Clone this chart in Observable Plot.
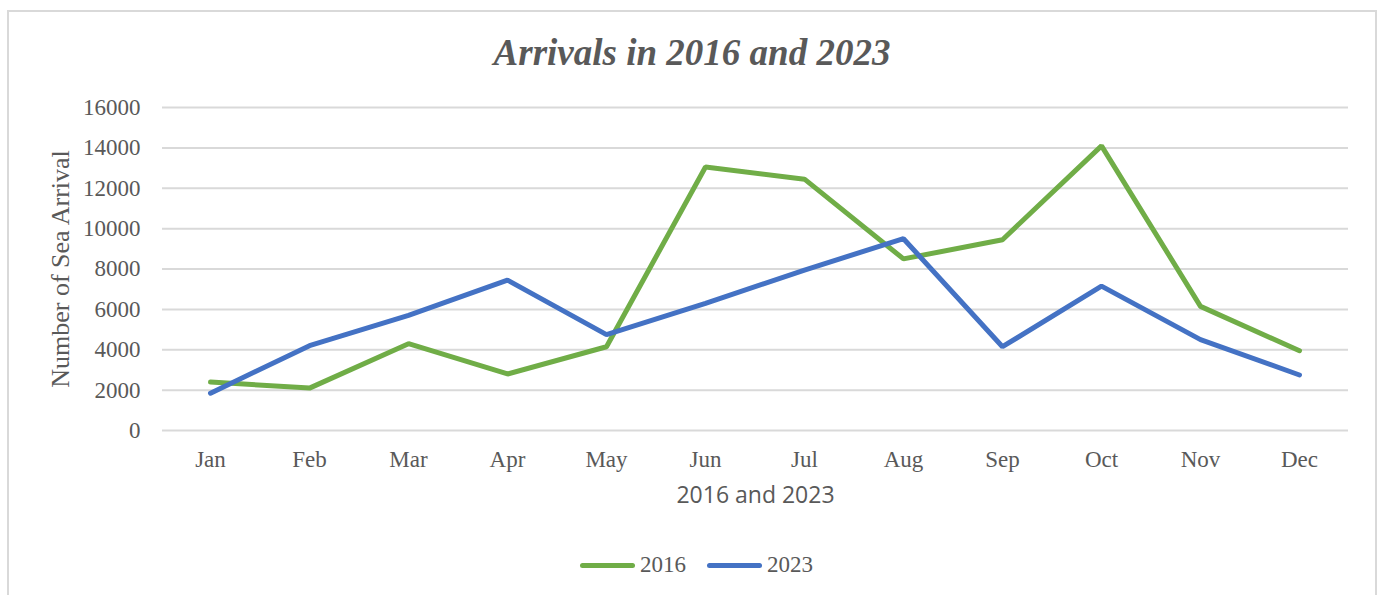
<!DOCTYPE html>
<html>
<head>
<meta charset="utf-8">
<script src="https://cdn.jsdelivr.net/npm/d3@7"></script>
<script src="https://cdn.jsdelivr.net/npm/@observablehq/plot@0.6"></script>
<style>
  html, body { margin: 0; padding: 0; background: #fff; }
  #page { position: relative; width: 1378px; height: 595px; overflow: hidden; font-family: "Liberation Serif", "Times New Roman", serif; color: #595959; }
  #frame { position: absolute; left: 7px; top: 10px; width: 1370px; height: 600px; border: 2px solid #d9d9d9; box-sizing: border-box; }
  #title { position: absolute; left: 0; width: 1384px; top: 33px; line-height: 40px; text-align: center; font-size: 37px; font-weight: bold; font-style: italic; color: #595959; }
  #chart { position: absolute; left: 0; top: 0; }
  #legend { position: absolute; left: 580px; top: 551px; height: 28px; display: flex; align-items: center; font-size: 23px; color: #595959; }
  .sw { display: inline-block; width: 55px; height: 5px; border-radius: 3px; margin-right: 5px; }
  .item { display: flex; align-items: center; margin-right: 21px; }
</style>
</head>
<body>
<div id="page">
  <div id="frame"></div>
  <div id="chart"></div>
  <div id="title">Arrivals in 2016 and 2023</div>
  <div id="legend"></div>
</div>
<script>
const months = ["Jan","Feb","Mar","Apr","May","Jun","Jul","Aug","Sep","Oct","Nov","Dec"];
const seriesNames = ["2016","2023"];
const arrivals2016 = [2400,2100,4300,2800,4150,13050,12450,8500,9450,14100,6150,3950];
const arrivals2023 = [1850,4200,5700,7450,4750,6300,7950,9500,4150,7150,4500,2750];
const yTicks = [0,2000,4000,6000,8000,10000,12000,14000,16000];
const seriesColors = ["#70AD47","#4472C4"];

const rows = [];
months.forEach((m,i) => rows.push({month: m, value: arrivals2016[i], series: "2016"}));
months.forEach((m,i) => rows.push({month: m, value: arrivals2023[i], series: "2023"}));

const chart = Plot.plot({
  width: 1378,
  height: 520,
  marginLeft: 162,
  marginRight: 30,
  marginTop: 107,
  marginBottom: 90,
  style: { fontFamily: "'Liberation Serif', 'Times New Roman', serif", fontSize: "23px", color: "#595959", background: "transparent" },
  x: { type: "point", domain: months, range: [210, 1299], padding: 0, label: null },
  y: { domain: [0,16000], label: null },
  color: { domain: seriesNames, range: seriesColors },
  marks: [
    Plot.gridY(yTicks, { stroke: "#d9d9d9", strokeOpacity: 1, strokeWidth: 2 }),
    Plot.axisY(yTicks, { tickSize: 0, tickPadding: 22, label: null, fontSize: 23, fill: "#595959", tickFormat: d => String(d) }),
    Plot.axisX({ tickSize: 0, tickPadding: 20, label: null, fontSize: 23, fill: "#595959" }),
    Plot.line(rows, { x: "month", y: "value", z: "series", stroke: "series", strokeWidth: 5, strokeLinecap: "round", strokeLinejoin: "miter" }),
    Plot.text(["2016 and 2023"], { frameAnchor: "bottom", dy: 65, fontSize: 23, fill: "#595959", fontFamily: "'Open Sans', sans-serif", lineAnchor: "middle" }),
    Plot.text(["Number of Sea Arrival"], { frameAnchor: "left", dx: -102, rotate: -90, textAnchor: "middle", fontSize: 26, fill: "#595959", lineAnchor: "middle" })
  ]
});
document.getElementById("chart").appendChild(chart);

const legend = document.getElementById("legend");
seriesNames.forEach((name, i) => {
  const it = document.createElement("div");
  it.className = "item";
  const sw = document.createElement("span");
  sw.className = "sw";
  sw.style.background = seriesColors[i];
  it.appendChild(sw);
  const t = document.createElement("span");
  t.textContent = name;
  it.appendChild(t);
  legend.appendChild(it);
});
</script>
</body>
</html>
